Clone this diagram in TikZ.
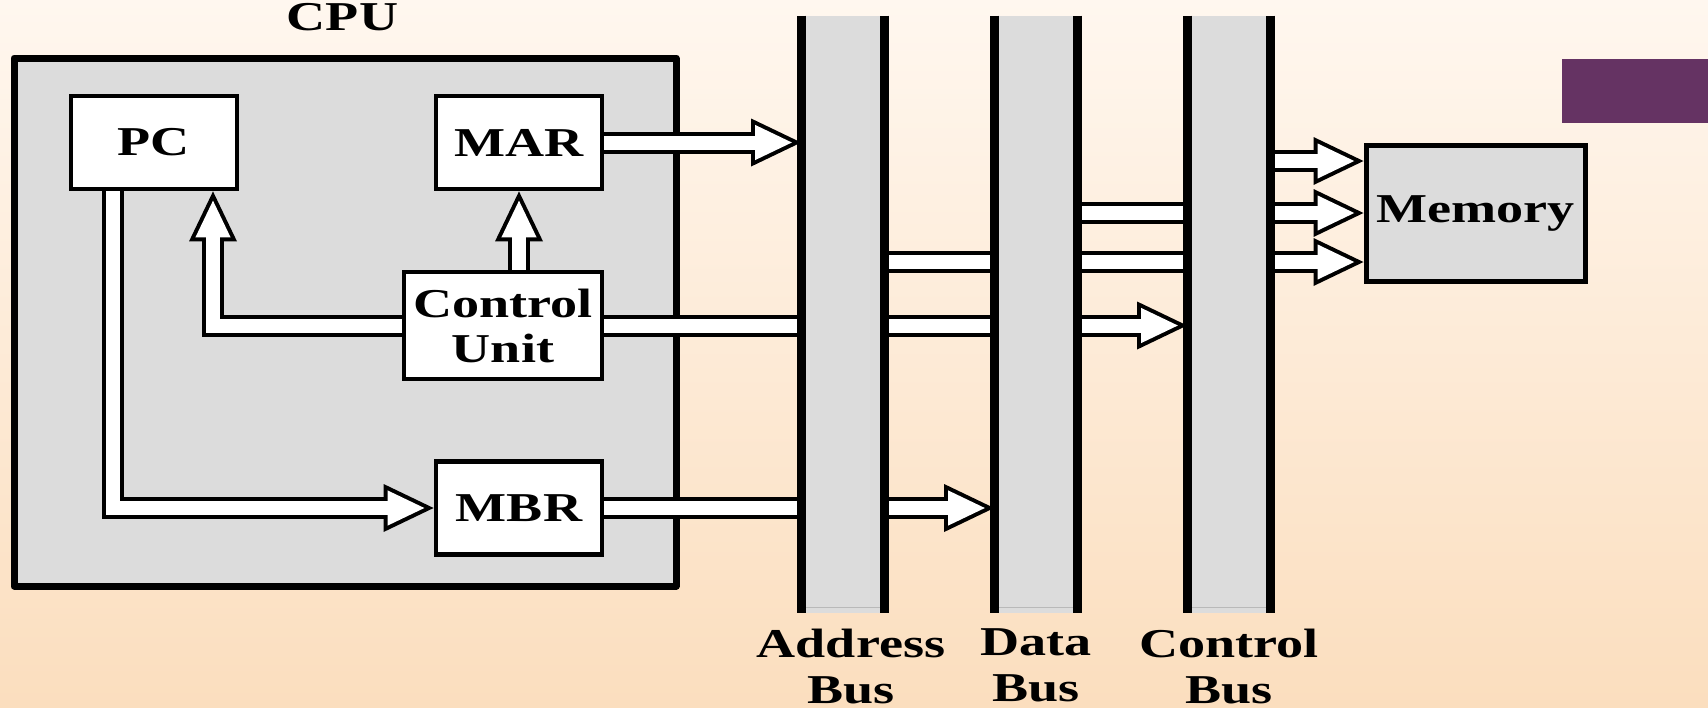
\documentclass[tikz,border=0pt]{standalone}
\usepackage{fontspec}
\newfontfamily\lblfont[FakeStretch=1.32]{Liberation Serif}
\usetikzlibrary{arrows.meta,positioning}
\pgfdeclarelayer{back}
\pgfdeclarelayer{wires}
\pgfsetlayers{back,wires,main}
\definecolor{bgtop}{RGB}{255,247,239}
\definecolor{bgbot}{RGB}{251,222,190}
\definecolor{boxgray}{RGB}{220,220,220}
\definecolor{plum}{RGB}{101,51,99}

\begin{document}
\begin{tikzpicture}[
    x=0.5pt, y=-0.5pt,
    lbl/.style={font=\lblfont\bfseries\fontsize{20.5pt}{22.5pt}\selectfont, align=center},
    reg/.style={lbl, draw, line width=2.4pt, fill=white, minimum width=83pt, minimum height=46.5pt, inner sep=0pt},
    cpubox/.style={draw, line width=3.5pt, line join=round, fill=boxgray, minimum width=331pt, minimum height=264pt},
    bus/.style={fill=boxgray, minimum width=41.5pt, minimum height=298.5pt, inner sep=0pt},
    buslbl/.style={lbl, font=\lblfont\bfseries\fontsize{20.5pt}{23pt}\selectfont, inner sep=0pt},
    wall/.style={line width=4.5pt},
    fat/.style={draw=white, line width=7pt, line join=miter, shorten >=4.63pt,
        -{Triangle[length=18.37pt, width=17.6pt, line width=0pt]},
        preaction={draw=black, line width=11pt, shorten >=0pt,
            -{Triangle[length=25pt, width=24pt, line width=0pt]}}}
]
\useasboundingbox (0,0) rectangle (1708,707);
\begin{pgfonlayer}{back}
\shade[top color=bgtop, bottom color=bgbot] (0,0) rectangle (1708,707);
\fill[plum] (1562,59) rectangle (1708,123);
\node[cpubox] (cpu) at (345,322) {};
\node[lbl, anchor=base, inner sep=0pt] (cputitle) at (342.5,30) {CPU};
\end{pgfonlayer}

\node[reg] (pc) at (154,142.5) {PC};
\node[reg] (mar) at (519,142.5) {MAR};
\node[reg, minimum width=99pt, minimum height=53.5pt] (cu) at (503,325.5) {Control\\Unit};
\node[reg] (mbr) at (519,508) {MBR};
\node[reg, fill=boxgray, line width=2.5pt, minimum width=109.5pt, minimum height=68pt] (mem) at (1475.5,213) {Memory};
\node[bus] (abus) at (843,314.5) {};
\node[bus] (dbus) at (1036,314.5) {};
\node[bus] (cbus) at (1229,314.5) {};
\foreach \b in {abus,dbus,cbus} {
  \draw[gray!55, line width=0.6pt] ([yshift=3pt]\b.south west) -- ([yshift=3pt]\b.south east);
  \draw[wall] (\b.north west) -- (\b.south west);
  \draw[wall] (\b.north east) -- (\b.south east);
}
\node[buslbl, below=7.5pt of abus, xshift=4pt] (alabel) {Address\\Bus};
\node[buslbl, below=7.5pt of dbus] (dlabel) {Data\\Bus};
\node[buslbl, below=7.5pt of cbus] (clabel) {Control\\Bus};

\begin{pgfonlayer}{wires}
\coordinate (pcin) at ([xshift=29.5pt]pc.south);
\coordinate (pcout) at ([xshift=-20.5pt]pc.south);
\coordinate (memc) at ([yshift=26pt]mem.west);
\coordinate (mema) at ([yshift=-24.5pt]mem.west);
\draw[fat] (mar.east) -- (mar.east -| abus.west);
\draw[fat] (mar.south |- cu.north) -- (mar.south);
\draw[fat] (cu.west) -| (pcin);
\draw[fat] (pcout) |- (mbr.west);
\draw[fat] (cu.east) -- (cu.east -| cbus.west);
\draw[fat] (mbr.east) -- (mbr.east -| dbus.west);
\draw[fat] (abus.east |- mema) -- (mema);
\draw[fat] (dbus.east |- mem.west) -- (mem.west);
\draw[fat] (cbus.east |- memc) -- (memc);
\end{pgfonlayer}
\end{tikzpicture}
\end{document}
